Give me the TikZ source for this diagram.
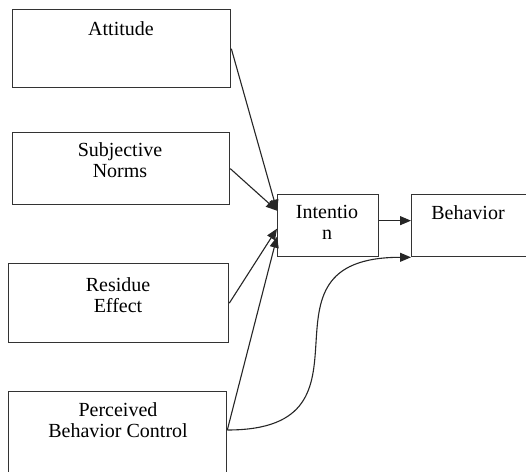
\documentclass[tikz,border=0pt]{standalone}
\usepackage{fontspec}
\setmainfont{Liberation Serif}
\usetikzlibrary{arrows.meta,calc}
\begin{document}
\begin{tikzpicture}[x=1pt,y=-1pt,
  box/.style={draw=black!80, line width=1.3pt, inner sep=0pt, anchor=north west},
  lbl/.style={font=\fontsize{20}{21}\selectfont, align=center, anchor=base, inner sep=0pt},
  conn/.style={draw=black!85, line width=1.1pt, -{Triangle[length=11pt,width=9pt]}}]
\useasboundingbox (0,0) rectangle (526,471);
\path[clip] (0,0) rectangle (526,471);
\fill[white] (0,0) rectangle (526,471);
% boxes
\node[box, minimum width=218pt, minimum height=78pt] (att) at (12,9) {};
\node[box, minimum width=217pt, minimum height=72pt] (sub) at (12,132) {};
\node[box, minimum width=220pt, minimum height=79pt] (res) at (8,263) {};
\node[box, minimum width=218pt, minimum height=100pt] (per) at (8,391) {};
\node[box, minimum width=101pt, minimum height=62pt] (int) at (277,194) {};
\node[box, minimum width=125pt, minimum height=62pt] (beh) at (411,194) {};
% labels (base = baseline of last line)
\node[lbl] (tatt) at (121,35) {Attitude};
\node[lbl] (tsub) at (120,177) {Subjective\\Norms};
\node[lbl] (tres) at (118,312) {Residue\\Effect};
\node[lbl] (tper) at (118,437) {Perceived\\Behavior Control};
\node[lbl] (tint) at (327,239) {Intentio\\n};
\node[lbl] (tbeh) at (468,219) {Behavior};
% connector points
\coordinate (pstart) at ($(per.north east)+(0,39)$);
% connectors
\draw[conn] (att.east) -- ($(int.west)+(0,-15)$);
\draw[conn] (sub.east) -- ($(int.west)+(0,-15)$);
\draw[conn] (res.east) -- ($(int.west)+(0,3)$);
\draw[conn] (pstart) -- ($(int.west)+(0,11)$);
\draw[conn] ($(int.east)+(0,-5)$) -- ($(beh.west)+(0,-5)$);
\draw[conn] (pstart) .. controls ($(pstart)+(165,0)$) and ($(beh.south west)+(-170,0)$) .. (beh.south west);
\end{tikzpicture}
\end{document}
